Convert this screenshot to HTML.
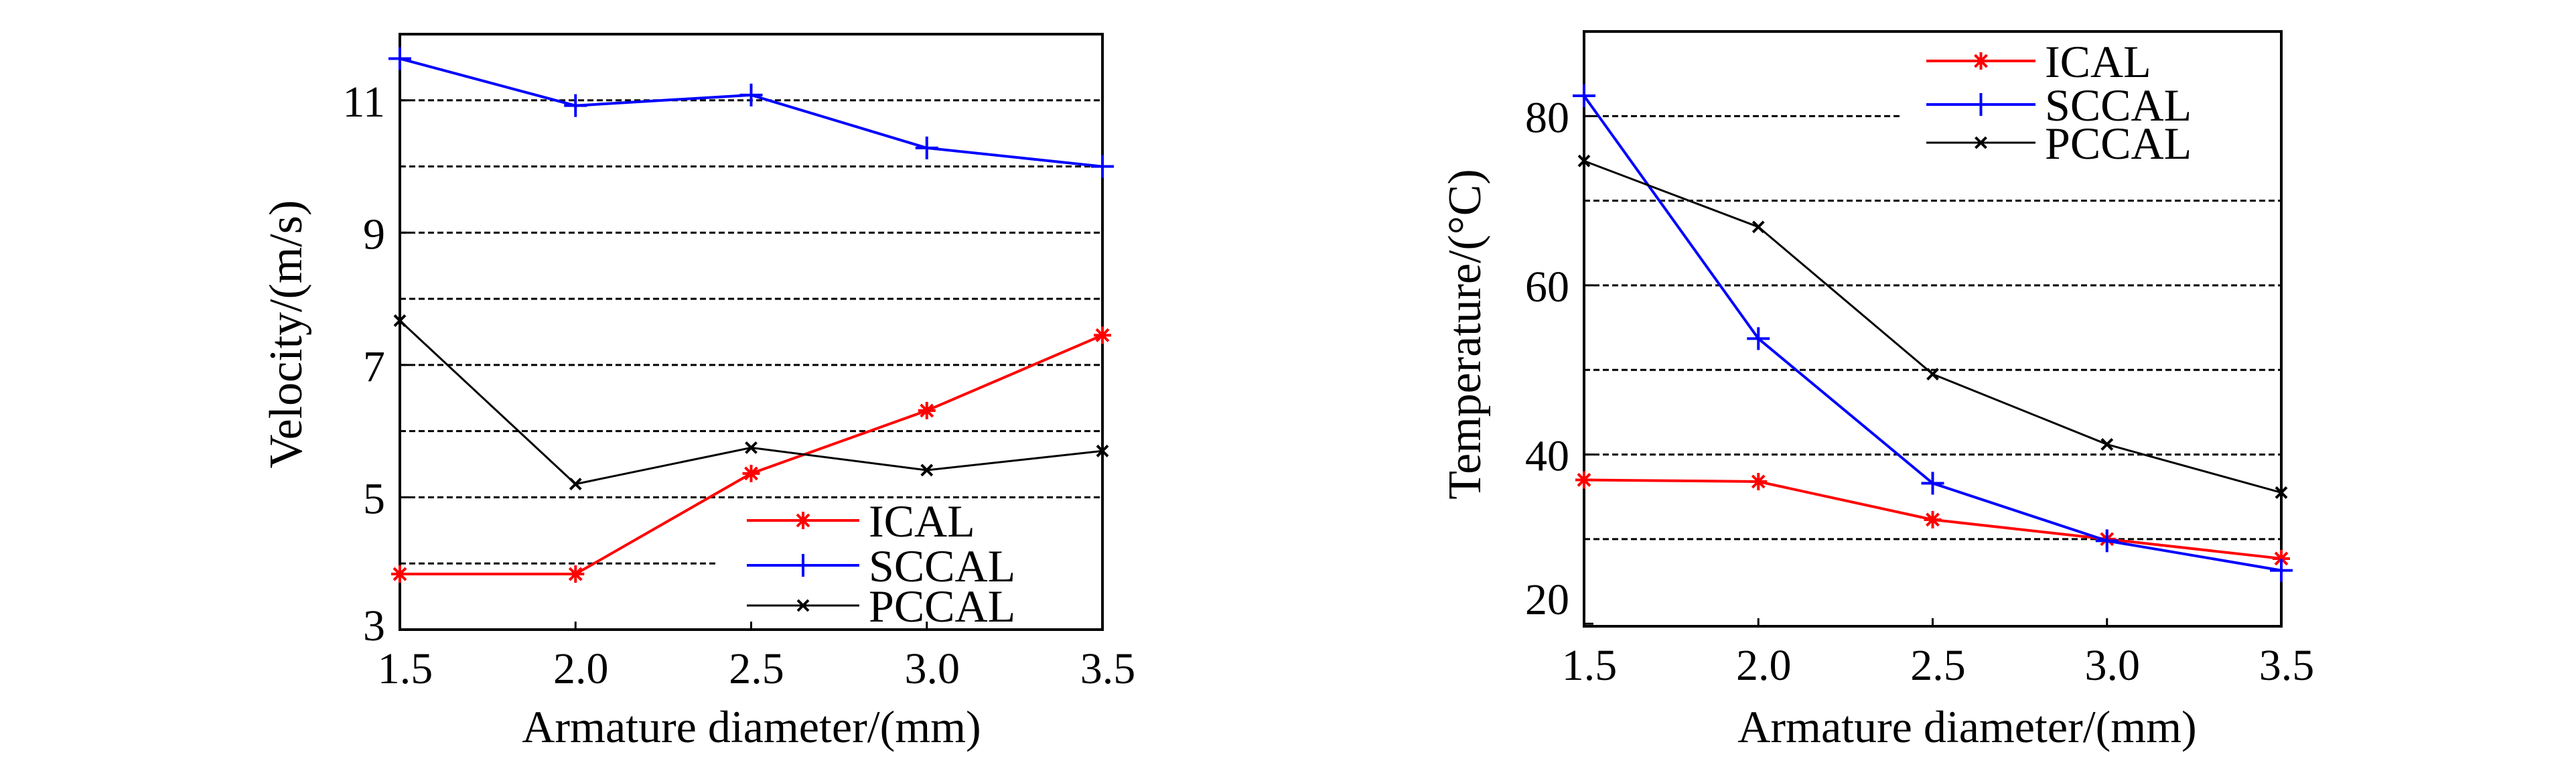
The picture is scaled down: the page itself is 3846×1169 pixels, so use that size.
<!DOCTYPE html>
<html><head><meta charset="utf-8">
<style>
html,body{margin:0;padding:0;background:#fff;}
svg{display:block;font-family:"Liberation Serif","DejaVu Serif",serif;}
svg text{font-family:"Liberation Serif","DejaVu Serif",serif;fill:#000;}
</style></head>
<body>
<svg id="svg" xmlns="http://www.w3.org/2000/svg" width="3846" height="1169" viewBox="0 0 3846 1169" font-family="Liberation Serif, serif"></svg>
<script>
const xCats = [1.5, 2.0, 2.5, 3.0, 3.5];
const xTickLabels = ["1.5", "2.0", "2.5", "3.0", "3.5"];
const velICAL = [3.84, 3.84, 5.36, 6.31, 7.45];
const velSCCAL = [11.63, 10.92, 11.08, 10.28, 10.0];
const velPCCAL = [7.67, 5.2, 5.75, 5.41, 5.7];
const velTicks = [3, 5, 7, 9, 11];
const velGrid = [5, 6, 7, 8, 9, 10, 11];
const tempICAL = [37.0, 36.8, 32.3, 30.0, 27.7];
const tempSCCAL = [82.4, 53.7, 36.6, 29.8, 26.3];
const tempPCCAL = [74.7, 66.9, 49.5, 41.2, 35.5];
const tempTicks = [20, 40, 60, 80];
const tempGrid = [30, 40, 50, 60, 70];

const NS = "http://www.w3.org/2000/svg";
const svg = document.getElementById('svg');
const FONT = '"Liberation Serif", "DejaVu Serif", serif';
function mk(tag, attrs, parent, txt){
  const e = document.createElementNS(NS, tag);
  for (const k in attrs) e.setAttribute(k, attrs[k]);
  if (tag === 'text') e.setAttribute('font-family', FONT);
  if (txt !== undefined) e.textContent = txt;
  (parent || svg).appendChild(e);
  return e;
}
function marker(g, kind, x, y, color){
  const s = 17;
  let d;
  if (kind === 'plus') d = `M${x-s},${y}H${x+s}M${x},${y-s}V${y+s}`;
  else if (kind === 'x') { const t = 8; d = `M${x-t},${y-t}L${x+t},${y+t}M${x-t},${y+t}L${x+t},${y-t}`; }
  else { const t = 13; d = `M${x-t},${y}H${x+t}M${x},${y-t}V${y+t}M${x-9},${y-9}L${x+9},${y+9}M${x-9},${y+9}L${x+9},${y-9}`; }
  const p = mk('path', {d, stroke: color, 'stroke-width': 4, fill: 'none'}, g);
  
  
}
function chart(o){
  const g = mk('g', {}, svg);
  
  
  const sx = v => o.x0 + (v - 1.5) / 2 * (o.x1 - o.x0);
  const sy = v => o.y1 - (v - o.ymin) / (o.ymax - o.ymin) * (o.y1 - o.y0);
  o.grid.forEach(v => {
    const l = mk('line', {x1: o.x0, x2: o.x1, y1: sy(v), y2: sy(v), stroke: '#000', 'stroke-width': 3, 'stroke-dasharray': '9 5'}, g);
    
    
  });
  o.partialGrid.forEach(v => {
    const l = mk('line', {x1: o.x0, x2: o.partialEnd, y1: sy(v), y2: sy(v), stroke: '#000', 'stroke-width': 3, 'stroke-dasharray': '9 5'}, g);
    
    
  });
  const fr = mk('rect', {x: o.x0, y: o.y0, width: o.x1 - o.x0, height: o.y1 - o.y0, fill: 'none', stroke: '#000', 'stroke-width': 4}, g);
  
  
  xCats.forEach((v, i) => {
    const t = mk('line', {x1: sx(v), x2: sx(v), y1: o.y1, y2: o.y1 - 12, stroke: '#000', 'stroke-width': 3}, g);
    
    
    const tl = mk('text', {x: sx(v) + 8, y: o.y1 + 80, 'font-size': 66, 'text-anchor': 'middle'}, g, xTickLabels[i]);
    
    
  });
  o.ticks.forEach(v => {
    const t = mk('line', {x1: o.x0, x2: o.x0 + 14, y1: sy(v), y2: sy(v), stroke: '#000', 'stroke-width': 3}, g);
    
    
    const off = (v === o.ymin || v === o.lowLabel) ? o.lowOffset : 0;
    const tl = mk('text', {x: o.x0 - 22, y: sy(v) + 24 + off, 'font-size': 66, 'text-anchor': 'end'}, g, String(v));
    
    
  });
  o.series.forEach(s => {
    const pts = xCats.map((v, i) => sx(v) + ',' + sy(s.vals[i])).join(' ');
    const pl = mk('polyline', {points: pts, fill: 'none', stroke: s.color, 'stroke-width': s.w}, g);
    
    
    xCats.forEach((v, i) => marker(g, s.kind, sx(v), sy(s.vals[i]), s.color));
  });
  o.series.forEach((s, i) => {
    const y = o.legY[i];
    const l = mk('line', {x1: o.legX0, x2: o.legX1, y1: y, y2: y, stroke: s.color, 'stroke-width': s.w}, g);
    
    
    marker(g, s.kind, (o.legX0 + o.legX1) / 2, y, s.color);
    const t = mk('text', {x: o.legX1 + 14, y: y + 24, 'font-size': 68}, g, s.label);
    
    
  });
  const xt = mk('text', {x: o.xTitleX, y: 1108, 'font-size': 68, 'text-anchor': 'middle'}, g, 'Armature diameter/(mm)');
  
  
  const yt = mk('text', {x: 0, y: 0, 'font-size': 70, 'text-anchor': 'middle', transform: `translate(${o.yTitleX},${499}) rotate(-90)`}, g, o.yTitle);
  
  
}
chart({name: 'velocity-chart', x0: 597, x1: 1646, y0: 51, y1: 940, ymin: 3, ymax: 12,
  grid: velGrid, partialGrid: [4], partialEnd: 1072, ticks: velTicks, lowLabel: null, lowOffset: -8,
  series: [
    {label: 'ICAL', vals: velICAL, color: '#ff0000', kind: 'star', w: 4},
    {label: 'SCCAL', vals: velSCCAL, color: '#0000ff', kind: 'plus', w: 4},
    {label: 'PCCAL', vals: velPCCAL, color: '#000000', kind: 'x', w: 3}
  ],
  legX0: 1115, legX1: 1283, legY: [777, 844, 904],
  xTitleX: 1122, yTitleX: 450, yTitle: 'Velocity/(m/s)'});
chart({name: 'temperature-chart', x0: 2365, x1: 3406, y0: 47, y1: 935, ymin: 19.7, ymax: 90,
  grid: tempGrid, partialGrid: [80], partialEnd: 2838, ticks: tempTicks, lowLabel: 20, lowOffset: -38,
  series: [
    {label: 'ICAL', vals: tempICAL, color: '#ff0000', kind: 'star', w: 4},
    {label: 'SCCAL', vals: tempSCCAL, color: '#0000ff', kind: 'plus', w: 4},
    {label: 'PCCAL', vals: tempPCCAL, color: '#000000', kind: 'x', w: 3}
  ],
  legX0: 2876, legX1: 3039, legY: [91, 156, 213],
  xTitleX: 2937, yTitleX: 2210, yTitle: 'Temperature/(°C)'});
</script>
</body></html>
